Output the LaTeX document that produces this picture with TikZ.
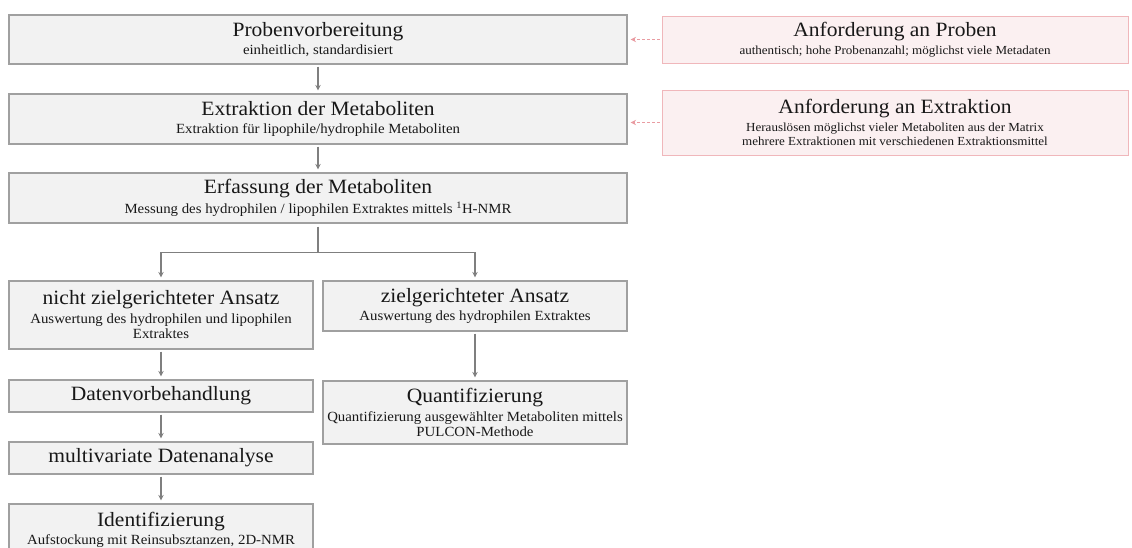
\documentclass[tikz,border=0pt]{standalone}
\usepackage{fontspec}
\setmainfont{Liberation Serif}[FakeStretch=1.1]
\newfontfamily\subfnt{Liberation Serif}[FakeStretch=1.06]
\usetikzlibrary{arrows.meta}
\definecolor{boxfill}{HTML}{F2F2F2}
\definecolor{boxline}{HTML}{A0A0A0}
\definecolor{arrgray}{HTML}{7F7F7F}
\definecolor{reqfill}{HTML}{FBF0F1}
\definecolor{reqline}{HTML}{F0B7BB}
\definecolor{reqarr}{HTML}{E99CA2}
\definecolor{txt}{HTML}{181818}
\newcommand{\ttl}{\fontsize{20.3}{22}\selectfont}
\newcommand{\sbt}{\subfnt\fontsize{14}{15.5}\selectfont}
\newcommand{\rsbt}{\subfnt\fontsize{12.3}{14.5}\selectfont}

\begin{document}
\begin{tikzpicture}[x=1pt,y=-1pt,
  stepbox/.style={draw=boxline,fill=boxfill,line width=1.2pt,inner sep=0pt,
    align=center,text=txt,font=\sbt,minimum width=#1},
  stepbox/.default=618pt,
  reqbox/.style={draw=reqline,fill=reqfill,line width=0.9pt,inner sep=0pt,
    align=center,text=txt,font=\rsbt,minimum width=466pt},
  flow/.style={draw=arrgray,line width=1.1pt,-{Stealth[length=5.5pt,width=5.5pt]},
    shorten <=2pt,shorten >=3pt},
  reqflow/.style={draw=reqarr,line width=1.1pt,dash pattern=on 3pt off 2pt,
    -{Stealth[length=5.5pt,width=5.5pt]},shorten <=2pt,shorten >=3pt}]
\useasboundingbox (0,0) rectangle (1132,548);
\node [stepbox,minimum height=49pt] (prep) at (318,39.5)
  {{\ttl Probenvorbereitung}\\[3pt]einheitlich, standardisiert};
\node [stepbox,minimum height=50pt] (extr) at (318,119)
  {{\ttl Extraktion der Metaboliten}\\[3pt]Extraktion für lipophile/hydrophile Metaboliten};
\node [stepbox,minimum height=50pt] (erf) at (318,198)
  {{\ttl Erfassung der Metaboliten}\\[3pt]Messung des hydrophilen / lipophilen Extraktes mittels \textsuperscript{1}H-NMR};
\node [stepbox=304pt,minimum height=68pt] (untarg) at (161,315)
  {{\ttl nicht zielgerichteter Ansatz}\\[3pt]Auswertung des hydrophilen und lipophilen\\Extraktes};
\node [stepbox=304pt,minimum height=50pt] (targ) at (475,306)
  {{\ttl zielgerichteter Ansatz}\\[3pt]Auswertung des hydrophilen Extraktes};
\node [stepbox=304pt,minimum height=32pt] (vorb) at (161,396)
  {{\ttl Datenvorbehandlung}};
\node [stepbox=304pt,minimum height=63pt] (quant) at (475,412.5)
  {{\ttl Quantifizierung}\\[3pt]Quantifizierung ausgewählter Metaboliten mittels\\PULCON-Methode};
\node [stepbox=304pt,minimum height=32pt] (multi) at (161,458)
  {{\ttl multivariate Datenanalyse}};
\node [stepbox=304pt,minimum height=52pt] (ident) at (161,530)
  {{\ttl Identifizierung}\\[3pt]Aufstockung mit Reinsubsztanzen, 2D-NMR};
\node [reqbox,minimum height=47pt] (reqprob) at (895,39.5)
  {{\ttl Anforderung an Proben}\\[3pt]authentisch; hohe Probenanzahl; möglichst viele Metadaten};
\node [reqbox,minimum height=65pt] (reqext) at (895,122.5)
  {{\ttl Anforderung an Extraktion}\\[3pt]Herauslösen möglichst vieler Metaboliten aus der Matrix\\mehrere Extraktionen mit verschiedenen Extraktionsmittel};
\draw [flow] (prep) -- (extr);
\draw [flow] (extr) -- (erf);
\draw [draw=arrgray,line width=1.1pt,shorten <=3pt] (erf.south) -- ++(0,29) coordinate (split);
\draw [flow,shorten <=0pt] (split) -| (untarg.north);
\draw [flow,shorten <=0pt] (split) -| (targ.north);
\draw [flow] (untarg) -- (vorb);
\draw [flow] (vorb) -- (multi);
\draw [flow] (multi) -- (ident);
\draw [flow] (targ) -- (quant);
\draw [reqflow] (reqprob.west) -- (prep.east |- reqprob.west);
\draw [reqflow] (reqext.west) -- (extr.east |- reqext.west);
\end{tikzpicture}
\end{document}
